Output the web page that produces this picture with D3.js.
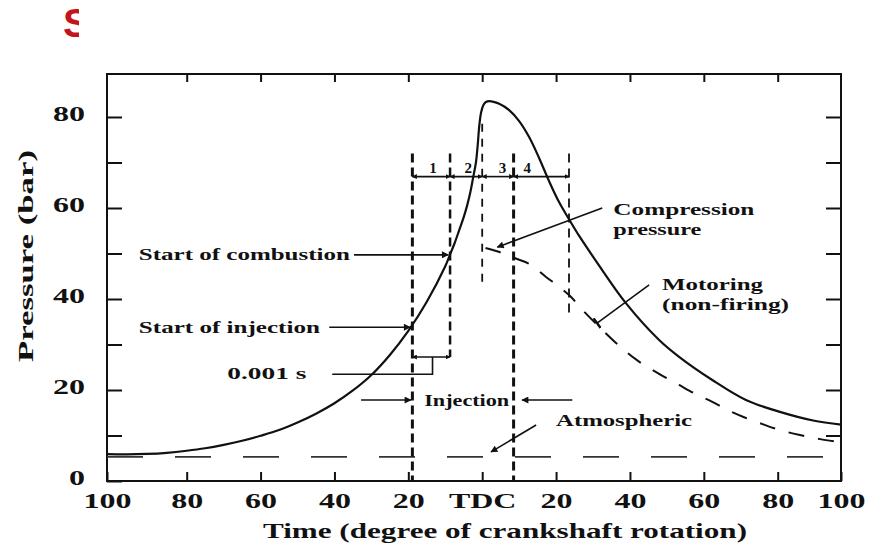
<!DOCTYPE html>
<html>
<head>
<meta charset="utf-8">
<script src="https://cdn.jsdelivr.net/npm/d3@7"></script>
<style>
  html, body { margin: 0; padding: 0; background: #fff; }
  svg text { font-family: "Liberation Serif", "Times New Roman", serif; fill: #111; }
</style>
</head>
<body>
<svg id="chart" width="870" height="544"></svg>
<script>
// Crank angle ticks (negative = before TDC) and pressure ticks
const degTicks = [-100, -80, -60, -40, -20, 0, 20, 40, 60, 80, 100];
const pressureTicks = [0, 10, 20, 30, 40, 50, 60, 70, 80];

// Cylinder pressure with combustion (bar) vs crank angle (deg)
const firingDeg = [-100, -95, -90, -85, -80, -75, -70, -65, -60, -55, -50, -45, -40, -35, -30, -25, -20, -15, -10,
  -8.7, -7.5, -6.2, -5, -4, -3.2, -2.5, -1.7, -1.2, -0.8, -0.3, 0.3, 1, 1.9,
  4.6, 7.3, 10.0, 12.7, 15.4, 18.1, 20.8, 23.6, 26.3, 31.7, 38.9, 47.9, 53.3, 62.3, 71.4, 80.7, 91.2, 100];
const firingBar = [5.9, 5.85, 5.95, 6.2, 6.65, 7.2, 7.95, 8.85, 9.95, 11.2, 12.85, 14.8, 17.1, 19.9, 23.3, 27.7, 33.0, 39.4, 47.2,
  49.8, 52.2, 55.2, 58.0, 60.8, 63.5, 66.5, 70.0, 74.0, 78.0, 81.0, 82.6, 83.3, 83.5,
  82.9, 81.5, 79.1, 75.6, 71.0, 65.9, 61.3, 57.4, 53.8, 47.3, 39.1, 31.0, 27.3, 22.2, 17.8, 15.2, 13.3, 12.4];

// Motoring (non-firing) pressure after TDC
const motoringDeg = [0.9, 4, 9.1, 13.2, 17.2, 20.8, 24, 26.7, 30.9, 36, 42, 48, 53.3, 58.3, 62.3, 66.4, 70.9, 75.9, 80.7, 87, 93.4, 100];
const motoringBar = [51.2, 50.5, 48.9, 47.5, 44.9, 42.7, 40.5, 38.0, 34.5, 30.5, 26.5, 23.5, 21.1, 18.9, 17.4, 15.6, 14.0, 12.5, 11.2, 10.1, 9.2, 8.5];

// Atmospheric reference level (bar)
const atmosphericBar = 5.3;

// Phase boundaries (deg): start of injection, start of combustion, TDC, end of injection, end of phase 4
const phaseBounds = [-18.9, -8.7, 0, 8.5, 23.5];
const phaseNames = ["1", "2", "3", "4"];
const phaseNameDeg = [-13.3, -3.8, 5.5, 12.2];
const phaseLevel = 66.9;

const svg = d3.select("#chart");

const x = d3.scaleLinear().domain([-100, -80, 80, 100]).range([107, 186.7, 777.7, 841]);
const yMax = 89.45;
const y = d3.scaleLinear().domain([0, yMax]).range([481, 74]);

// defs: arrowheads
const defs = svg.append("defs");
defs.append("marker").attr("id", "arrow").attr("viewBox", "0 0 10 10")
  .attr("refX", 9).attr("refY", 5).attr("markerWidth", 9).attr("markerHeight", 7)
  .attr("markerUnits", "userSpaceOnUse").attr("orient", "auto-start-reverse")
  .append("path").attr("d", "M0,0 L10,5 L0,10 Z").attr("fill", "#111");
defs.append("marker").attr("id", "tiny").attr("viewBox", "0 0 10 10")
  .attr("refX", 9).attr("refY", 5).attr("markerWidth", 5).attr("markerHeight", 5)
  .attr("markerUnits", "userSpaceOnUse").attr("orient", "auto-start-reverse")
  .append("path").attr("d", "M0,0 L10,5 L0,10 Z").attr("fill", "#111");
defs.append("marker").attr("id", "tee").attr("viewBox", "0 0 10 10")
  .attr("refX", 5).attr("refY", 5).attr("markerWidth", 12).attr("markerHeight", 12)
  .attr("markerUnits", "userSpaceOnUse").attr("orient", "auto")
  .append("path").attr("d", "M5,0 L5,10").attr("stroke", "#111").attr("stroke-width", 2);
defs.append("clipPath").attr("id", "headClip")
  .append("rect").attr("x", 0).attr("y", 0).attr("width", 79).attr("height", 60);

// partially covered red heading letter
svg.append("text").attr("x", 63).attr("y", 37).attr("clip-path", "url(#headClip)")
  .style("font-family", "'Liberation Sans', Arial, sans-serif").style("fill", "#c4141c")
  .attr("font-size", 40).attr("font-weight", "bold").text("S");

// Axes
const axisG = svg.append("g");
const bottom = axisG.append("g").attr("transform", `translate(0,${y(0)})`)
  .call(d3.axisBottom(x).tickValues(degTicks).tickSizeInner(-9).tickSizeOuter(0).tickPadding(13)
    .tickFormat(d => d === 0 ? "TDC" : Math.abs(d)));
bottom.selectAll("text").attr("font-size", 20).attr("font-weight", "bold")
  .attr("transform", "scale(1.6,1)");
axisG.append("g").attr("transform", `translate(0,${y(yMax)})`)
  .call(d3.axisTop(x).tickValues(degTicks.slice(1, -1)).tickSizeInner(-8).tickSizeOuter(0).tickFormat(""));
const left = axisG.append("g").attr("transform", `translate(${x(-100)},0)`)
  .call(d3.axisLeft(y).tickValues(pressureTicks).tickSizeInner(-15).tickSizeOuter(0)
    .tickFormat(d => d % 20 === 0 ? d : ""));
left.selectAll("text").attr("x", 0).attr("font-size", 20).attr("font-weight", "bold")
  .attr("transform", "translate(-22,-3) scale(1.6,1)");
axisG.append("g").attr("transform", `translate(${x(100)},0)`)
  .call(d3.axisRight(y).tickValues(pressureTicks.slice(1)).tickSizeInner(-15).tickSizeOuter(0).tickFormat(""));
axisG.selectAll(".domain").remove();
axisG.selectAll(".tick line").attr("stroke", "#111").attr("stroke-width", 2);

// Frame
svg.append("rect").attr("x", x(-100)).attr("y", y(yMax))
  .attr("width", x(100) - x(-100)).attr("height", y(0) - y(yMax))
  .attr("fill", "none").attr("stroke", "#111").attr("stroke-width", 2);

// Axis titles
svg.append("text").attr("x", 263).attr("y", 538).attr("font-size", 22).attr("font-weight", "bold")
  .attr("textLength", 484).attr("lengthAdjust", "spacingAndGlyphs")
  .text("Time (degree of crankshaft rotation)");
svg.append("text").attr("transform", "translate(33,362) rotate(-90)")
  .attr("font-size", 22).attr("font-weight", "bold")
  .attr("textLength", 212).attr("lengthAdjust", "spacingAndGlyphs")
  .text("Pressure (bar)");

// Atmospheric level
svg.append("line").attr("x1", x(-100)).attr("x2", x(100))
  .attr("y1", y(atmosphericBar)).attr("y2", y(atmosphericBar))
  .attr("stroke", "#333").attr("stroke-width", 1.8).attr("stroke-dasharray", "36,32");

// Phase marker lines (vertical dashed)
const vLines = [
  { deg: phaseBounds[0], top: 72, bot: 0, w: 3, dash: "9,5" },
  { deg: phaseBounds[1], top: 72, bot: 27.25, w: 2.5, dash: "9,5" },
  { deg: phaseBounds[2], top: 78.5, bot: 42.6, w: 1.8, dash: "8,7" },
  { deg: phaseBounds[3], top: 72, bot: 0, w: 3, dash: "9,5" },
  { deg: phaseBounds[4], top: 72, bot: 36.5, w: 1.8, dash: "9,6" }
];
svg.append("g").selectAll("line").data(vLines).join("line")
  .attr("x1", d => x(d.deg)).attr("x2", d => x(d.deg))
  .attr("y1", d => y(d.top)).attr("y2", d => y(d.bot))
  .attr("stroke", "#111").attr("stroke-width", d => d.w).attr("stroke-dasharray", d => d.dash);

// Phase dimension line with segment arrows
const phaseG = svg.append("g");
d3.pairs(phaseBounds).forEach(([a, b]) => {
  phaseG.append("line").attr("x1", x(a)).attr("x2", x(b))
    .attr("y1", y(phaseLevel)).attr("y2", y(phaseLevel))
    .attr("stroke", "#111").attr("stroke-width", 1.6)
    .attr("marker-start", "url(#tiny)").attr("marker-end", "url(#tiny)");
});
phaseG.selectAll("text").data(phaseNames).join("text")
  .attr("x", (d, i) => x(phaseNameDeg[i])).attr("y", y(68.7))
  .attr("text-anchor", "middle").attr("dominant-baseline", "central")
  .attr("font-size", 15).attr("font-weight", "bold").text(d => d);

// Curves
const line = d3.line().x(d => x(d[0])).y(d => y(d[1])).curve(d3.curveCatmullRom.alpha(0.5));
svg.append("path").datum(firingDeg.map((d, i) => [d, firingBar[i]]))
  .attr("d", line).attr("fill", "none").attr("stroke", "#111").attr("stroke-width", 2.2);
svg.append("path").datum(motoringDeg.map((d, i) => [d, motoringBar[i]]))
  .attr("d", line).attr("fill", "none").attr("stroke", "#111").attr("stroke-width", 2)
  .attr("stroke-dasharray", "16,14");

// Annotations
const notes = [
  { text: "Start of combustion", deg: -92.0, p: 49.7, len: 211 },
  { text: "Start of injection", deg: -92.0, p: 33.8, len: 181 },
  { text: "0.001 s", deg: -69.0, p: 23.7, len: 79 },
  { text: "Compression", deg: 35.5, p: 59.6, len: 141 },
  { text: "pressure", deg: 35.5, p: 55.2, len: 88 },
  { text: "Motoring", deg: 48.7, p: 43.1, len: 101 },
  { text: "(non-firing)", deg: 48.7, p: 38.7, len: 127 },
  { text: "Injection", deg: -15.7, p: 17.65, len: 85 },
  { text: "Atmospheric", deg: 20.0, p: 13.4, len: 136 }
];
svg.append("g").selectAll("text").data(notes).join("text")
  .attr("x", d => x(d.deg)).attr("y", d => y(d.p))
  .attr("dominant-baseline", "central").attr("font-size", 16).attr("font-weight", "bold")
  .attr("textLength", d => d.len).attr("lengthAdjust", "spacingAndGlyphs")
  .text(d => d.text);

const leaders = [
  { pts: [[-34.7, 49.7], [-9.2, 49.7]], end: "arrow" },
  { pts: [[-41.4, 33.8], [-19.5, 33.8]], end: "arrow" },
  { pts: [[-40.6, 23.45], [-13.45, 23.45], [-13.45, 27.25]], end: null },
  { pts: [[-18.9, 27.25], [-8.7, 27.25]], end: "tiny", both: true },
  { pts: [[-32.8, 17.8], [-19.3, 17.8]], end: "arrow" },
  { pts: [[24.4, 17.8], [10.8, 17.8]], end: "arrow" },
  { pts: [[14.6, 12.3], [2.4, 6.4]], end: "arrow" },
  { pts: [[32.5, 60.0], [4.1, 51.4]], end: "arrow" },
  { pts: [[45.2, 43.1], [31.1, 34.7]], end: "tee" }
];
const straight = d3.line().x(d => x(d[0])).y(d => y(d[1]));
svg.append("g").selectAll("path").data(leaders).join("path")
  .attr("d", d => straight(d.pts)).attr("fill", "none")
  .attr("stroke", "#111").attr("stroke-width", 1.6)
  .attr("marker-end", d => d.end ? `url(#${d.end})` : null)
  .attr("marker-start", d => d.both ? `url(#${d.end})` : null);
</script>
</body>
</html>
